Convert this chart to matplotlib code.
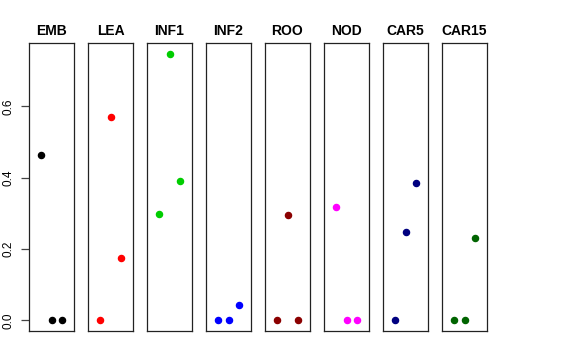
import numpy as np
import matplotlib
matplotlib.use("Agg")
import matplotlib.pyplot as plt

plt.rcParams['font.family'] = ['Liberation Sans', 'DejaVu Sans']

# tissue panels, three samples each (x positions 1, 2, 3)
tissues = ["EMB", "LEA", "INF1", "INF2", "ROO", "NOD", "CAR5", "CAR15"]
colors = ["black", "red", "#00CD00", "blue", "#8B0000", "magenta", "#000080", "#006400"]
emb = [0.465, 0.0, 0.0]
lea = [0.0, 0.571, 0.174]
inf1 = [0.299, 0.747, 0.390]
inf2 = [0.0, 0.0, 0.043]
roo = [0.0, 0.296, 0.0]
nod = [0.319, 0.0, 0.0]
car5 = [0.0, 0.248, 0.385]
car15 = [0.002, 0.0, 0.232]
values = [emb, lea, inf1, inf2, roo, nod, car5, car15]
samples = [1, 2, 3]
yticks = [0.0, 0.2, 0.4, 0.6]

W, H = 576, 360
fig = plt.figure(figsize=(W / 100, H / 100), dpi=100)

ymax = max(max(v) for v in values)
ylim = (-0.04 * ymax, ymax * 1.04)

for k, (name, col, vals) in enumerate(zip(tissues, colors, values)):
    left = 29 + 59 * k
    ax = fig.add_axes([left / W, 1 - 331 / H, 45 / W, (331 - 43.3) / H])
    ax.plot(samples, vals, 'o', color=col, ms=4.4, mec=col)
    ax.set_xlim(-0.16, 4.16)
    ax.set_ylim(*ylim)
    ax.set_xticks([])
    for s in ax.spines.values():
        s.set_linewidth(0.9)
        s.set_color('#222222')
    ax.set_title(name, fontsize=10, fontweight='bold', pad=6)
    if k == 0:
        ax.set_yticks(yticks)
        ax.set_yticklabels([f"{t:.1f}" for t in yticks], rotation=90, va='center', fontsize=8.5)
        ax.tick_params(axis='y', length=5.5, width=0.9, pad=5, color='#444444')
    else:
        ax.set_yticks([])

fig.savefig("out.png", dpi=100)
